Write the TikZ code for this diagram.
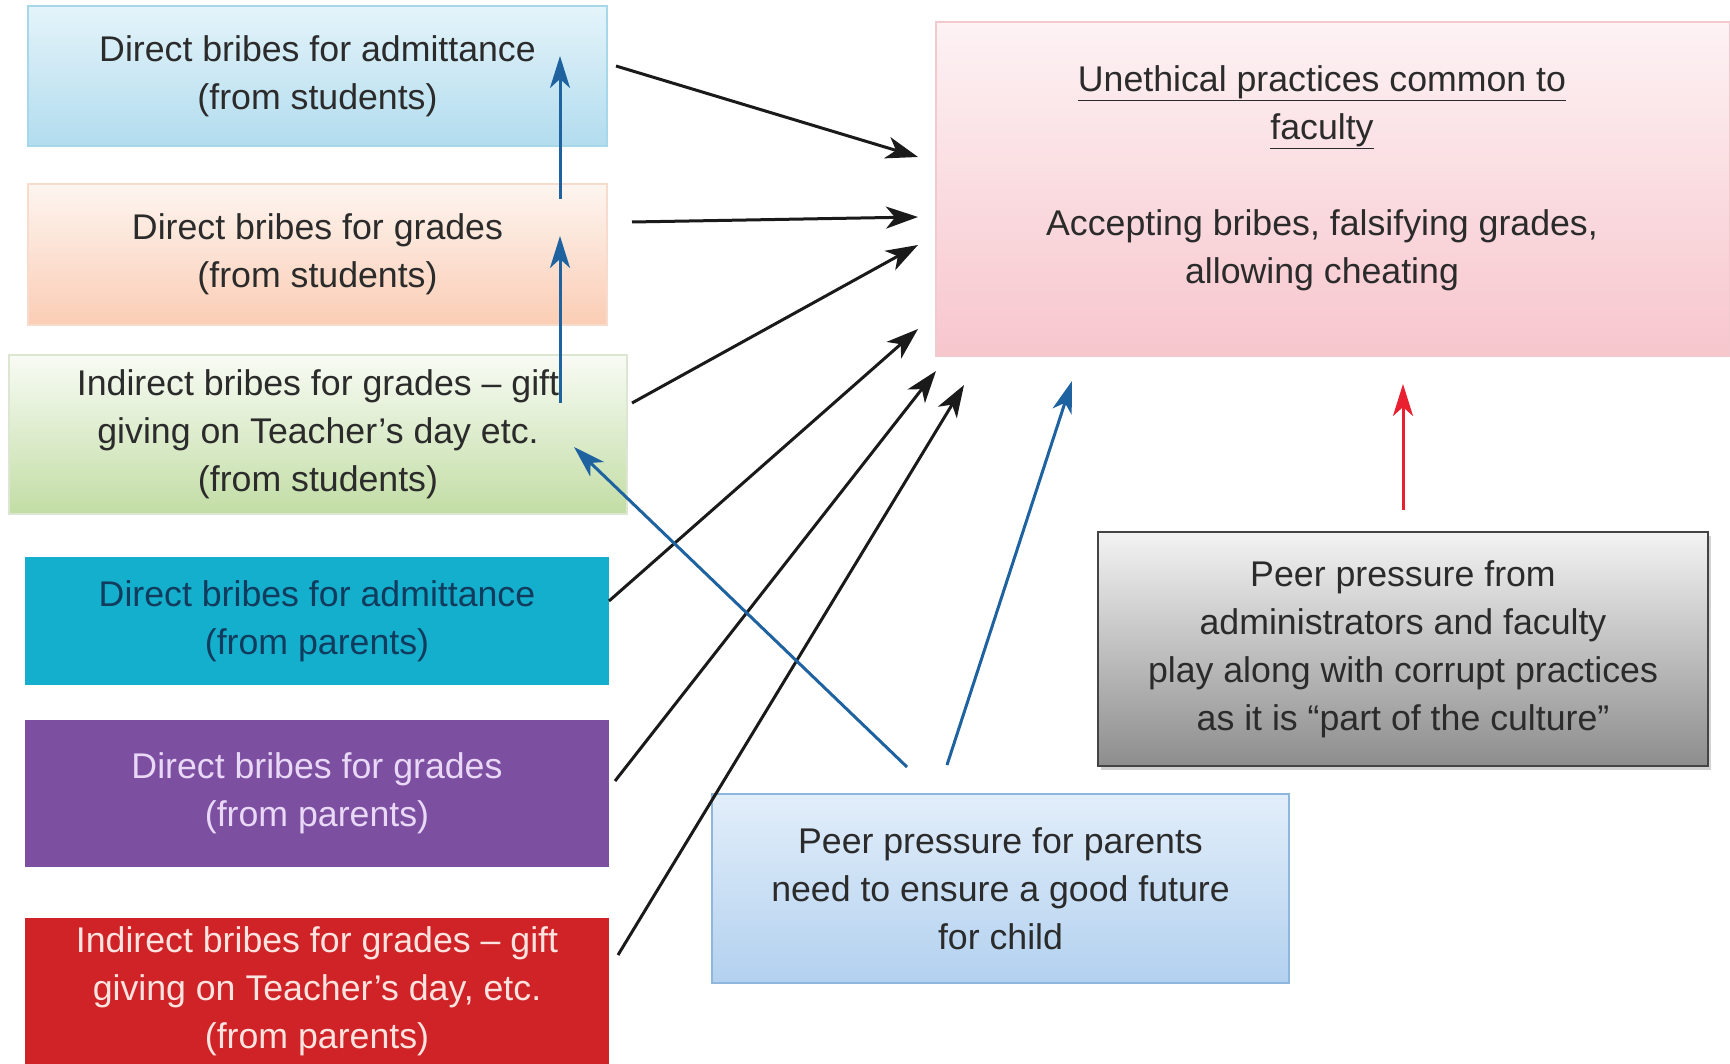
\documentclass[tikz,border=0pt]{standalone}
\usepackage{fontspec}
\setmainfont{Liberation Sans}
\usetikzlibrary{arrows.meta,shadows}
\definecolor{txt}{HTML}{2B2B2B}
\definecolor{aTop}{HTML}{E4F4FA}\definecolor{aBot}{HTML}{B2DCEE}\definecolor{aBd}{HTML}{A6D8EA}
\definecolor{bTop}{HTML}{FDF5F0}\definecolor{bBot}{HTML}{FBCDB5}\definecolor{bBd}{HTML}{F7DCCD}
\definecolor{cTop}{HTML}{F8FBF4}\definecolor{cBot}{HTML}{C2DDA5}\definecolor{cBd}{HTML}{DDE6D2}
\definecolor{dFill}{HTML}{14AFCC}\definecolor{dTxt}{HTML}{123C5E}
\definecolor{eFill}{HTML}{7C4FA1}\definecolor{eTxt}{HTML}{EAD8F7}
\definecolor{fFill}{HTML}{CF2327}\definecolor{fTxt}{HTML}{FDE3DF}
\definecolor{gTop}{HTML}{FDF2F4}\definecolor{gBot}{HTML}{F7C6CD}\definecolor{gBd}{HTML}{F2C9CF}
\definecolor{hTop}{HTML}{F3F3F3}\definecolor{hBot}{HTML}{8D8D8D}\definecolor{hBd}{HTML}{444444}
\definecolor{iTop}{HTML}{E2EEFA}\definecolor{iBot}{HTML}{B3D1EF}\definecolor{iBd}{HTML}{8FB6DD}
\definecolor{arrBlack}{HTML}{1A1A1A}
\definecolor{arrBlue}{HTML}{1F62A0}
\definecolor{arrRed}{HTML}{E8202F}
\begin{document}
\begin{tikzpicture}[x=1pt,y=-1pt,
  box/.style={rectangle, inner sep=0pt, align=center, text=txt,
    font=\fontsize{35.7}{48}\selectfont},
  blackarrow/.style={draw=arrBlack, line width=3pt,
    -{Stealth[length=32pt,width=22pt,inset=9pt]}},
  bluearrow/.style={draw=arrBlue, line width=3pt,
    -{Stealth[length=32pt,width=20pt,inset=9pt]}},
  redarrow/.style={draw=arrRed, line width=3pt,
    -{Stealth[length=32pt,width=20pt,inset=9pt]}}]
\useasboundingbox[fill=white] (0,0) rectangle (1730,1064);

% left column
\node[box, minimum width=579pt, minimum height=140pt, top color=aTop, bottom color=aBot, draw=aBd, line width=1.5pt]
  (a) at (317.5,76) {Direct bribes for admittance\\(from students)};
\node[box, minimum width=579pt, minimum height=141pt, top color=bTop, bottom color=bBot, draw=bBd, line width=1.5pt]
  (b) at (317.5,254.5) {Direct bribes for grades\\(from students)};
\node[box, minimum width=618pt, minimum height=159pt, top color=cTop, bottom color=cBot, draw=cBd, line width=1.5pt]
  (c) at (318,434.5) {Indirect bribes for grades – gift\\giving on Teacher’s day etc.\\(from students)};
\node[box, minimum width=584pt, minimum height=128pt, fill=dFill, text=dTxt]
  (d) at (317,621) {Direct bribes for admittance\\(from parents)};
\node[box, minimum width=584pt, minimum height=147pt, fill=eFill, text=eTxt]
  (e) at (317,793.5) {Direct bribes for grades\\(from parents)};
\node[box, minimum width=584pt, minimum height=146pt, fill=fFill, text=fTxt]
  (f) at (317,991) {Indirect bribes for grades – gift\\giving on Teacher’s day, etc.\\(from parents)};

% right side
\node[box, minimum width=794pt, minimum height=334pt, top color=gTop, bottom color=gBot, draw=gBd, line width=1.5pt]
  (g) at (1333,189) {};
\node[box] (gt) at (1322,178) {\underline{Unethical practices common to}\\\underline{faculty}\\[48pt]Accepting bribes, falsifying grades,\\allowing cheating};
\node[box, minimum width=610pt, minimum height=234pt, top color=hTop, bottom color=hBot, draw=hBd, line width=2.5pt,
  drop shadow={shadow xshift=3pt, shadow yshift=-4pt, opacity=0.35}]
  (h) at (1403,649) {Peer pressure from\\administrators and faculty\\play along with corrupt practices\\as it is “part of the culture”};
\node[box, minimum width=577pt, minimum height=189pt, top color=iTop, bottom color=iBot, draw=iBd, line width=1.5pt]
  (i) at (1000.5,888.5) {Peer pressure for parents\\need to ensure a good future\\for child};

% connector end points
\coordinate (a1) at (616,66);   \coordinate (g1) at (918,157);
\coordinate (b1) at (632,222);  \coordinate (g2) at (918,217);
\coordinate (c1) at (632,403);  \coordinate (g3) at (918,245);
\coordinate (d1) at (609,601);  \coordinate (g4) at (918,329);
\coordinate (e1) at (615,781);  \coordinate (g5) at (936,371);
\coordinate (f1) at (618,955);  \coordinate (g6) at (964,385);
\coordinate (c2) at (560,403);  \coordinate (b2) at (560,236);
\coordinate (b3) at (560,199);  \coordinate (a2) at (560,56);
\coordinate (i1) at (907,767);  \coordinate (c3) at (574,447);
\coordinate (i2) at (947,765);  \coordinate (g7) at (1072,381);
\coordinate (h1) at (1403,510); \coordinate (g8) at (1403,384);

\draw[blackarrow] (a1) -- (g1);
\draw[blackarrow] (b1) -- (g2);
\draw[blackarrow] (c1) -- (g3);
\draw[blackarrow] (d1) -- (g4);
\draw[blackarrow] (e1) -- (g5);
\draw[blackarrow] (f1) -- (g6);
\draw[bluearrow] (c2) -- (b2);
\draw[bluearrow] (b3) -- (a2);
\draw[bluearrow] (i1) -- (c3);
\draw[bluearrow] (i2) -- (g7);
\draw[redarrow] (h1) -- (g8);
\end{tikzpicture}
\end{document}
